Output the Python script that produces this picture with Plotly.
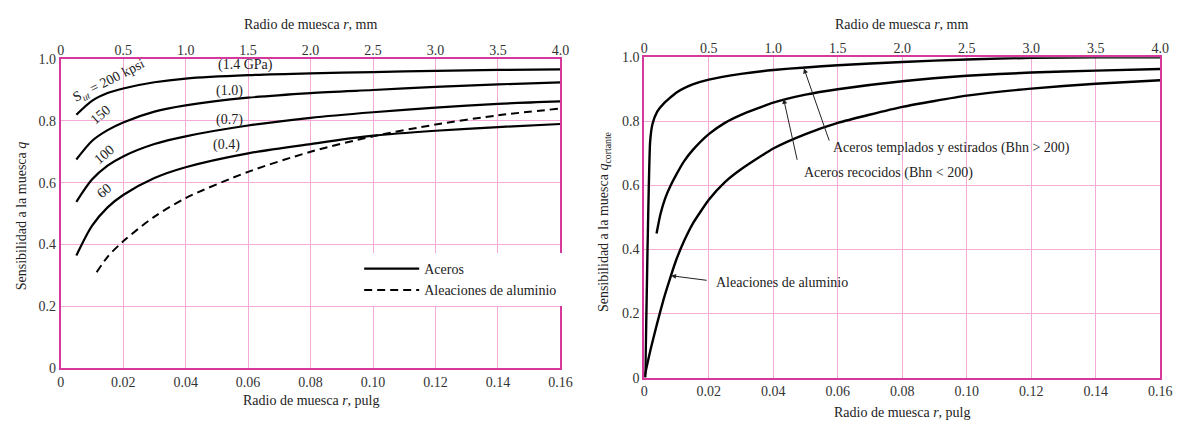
import plotly.graph_objects as go

# ---------------- data: left chart (normal stress notch sensitivity) ----------------
r_steel = [0.005, 0.01, 0.015, 0.02, 0.03, 0.04, 0.06, 0.08, 0.10, 0.12, 0.14, 0.16]
q_200 = [0.82, 0.865, 0.89, 0.905, 0.925, 0.937, 0.948, 0.954, 0.958, 0.962, 0.965, 0.967]
q_150 = [0.675, 0.735, 0.77, 0.795, 0.83, 0.85, 0.875, 0.89, 0.90, 0.91, 0.918, 0.925]
q_100 = [0.538, 0.61, 0.655, 0.685, 0.725, 0.75, 0.785, 0.81, 0.828, 0.843, 0.855, 0.863]
q_60 = [0.364, 0.46, 0.52, 0.56, 0.615, 0.65, 0.695, 0.725, 0.752, 0.768, 0.78, 0.79]
r_al = [0.0115, 0.015, 0.02, 0.03, 0.04, 0.06, 0.08, 0.10, 0.12, 0.14, 0.16]
q_al = [0.31, 0.36, 0.41, 0.49, 0.55, 0.635, 0.70, 0.75, 0.788, 0.818, 0.84]

# ---------------- data: right chart (shear notch sensitivity) ----------------
r_temp = [0.0003, 0.001, 0.0018, 0.0025, 0.004, 0.006, 0.01, 0.015, 0.02, 0.03, 0.04,
          0.05, 0.06, 0.08, 0.10, 0.12, 0.14, 0.16]
q_temp = [0.0, 0.40, 0.735, 0.79, 0.83, 0.855, 0.89, 0.915, 0.93, 0.948, 0.96,
          0.968, 0.975, 0.985, 0.993, 0.998, 1.0, 1.0]
r_rec = [0.0038, 0.005, 0.0065, 0.0082, 0.01, 0.0123, 0.015, 0.02, 0.025, 0.03, 0.04,
         0.05, 0.06, 0.08, 0.10, 0.12, 0.14, 0.16]
q_rec = [0.45, 0.51, 0.56, 0.60, 0.635, 0.675, 0.71, 0.76, 0.795, 0.82, 0.858,
         0.883, 0.90, 0.925, 0.942, 0.952, 0.958, 0.963]
r_alc = [0.0, 0.002, 0.004, 0.006, 0.008, 0.01, 0.0125, 0.015, 0.02, 0.025, 0.03, 0.04,
         0.05, 0.06, 0.08, 0.10, 0.12, 0.14, 0.16]
q_alc = [0.0, 0.09, 0.17, 0.245, 0.31, 0.37, 0.43, 0.48, 0.555, 0.61, 0.65, 0.715,
         0.76, 0.795, 0.845, 0.88, 0.902, 0.917, 0.928]

# tick labels
in_ticks = [0, 0.02, 0.04, 0.06, 0.08, 0.10, 0.12, 0.14, 0.16]
in_labels = ["0", "0.02", "0.04", "0.06", "0.08", "0.10", "0.12", "0.14", "0.16"]
mm_ticks = [0, 0.5, 1.0, 1.5, 2.0, 2.5, 3.0, 3.5, 4.0]
mm_labels = ["0", "0.5", "1.0", "1.5", "2.0", "2.5", "3.0", "3.5", "4.0"]
q_ticks = [0, 0.2, 0.4, 0.6, 0.8, 1.0]
q_labels = ["0", "0.2", "0.4", "0.6", "0.8", "1.0"]

FONT = "Liberation Serif"
BORDER = "#d6399b"
GRID = "#f3aad6"
W, H = 1194, 430

def px(x):
    return x / W

def py(y):
    return 1 - y / H

fig = go.Figure()

line_style = dict(color="black", width=2.2, shape="spline", smoothing=0.8)

fig.add_trace(go.Scatter(x=r_steel, y=q_200, mode="lines", line=line_style,
                         name="Aceros", showlegend=True,
                         xaxis="x", yaxis="y"))
for qq in (q_150, q_100, q_60):
    fig.add_trace(go.Scatter(x=r_steel, y=qq, mode="lines", line=line_style,
                             name="Aceros", showlegend=False,
                             xaxis="x", yaxis="y"))
fig.add_trace(go.Scatter(x=r_al, y=q_al, mode="lines",
                         line=dict(color="black", width=2.0, dash="8px,5px",
                                   shape="spline", smoothing=0.8),
                         name="Aleaciones de aluminio", showlegend=True,
                         xaxis="x", yaxis="y"))

rline = dict(color="black", width=2.4, shape="spline", smoothing=0.5)
for rr, qq in ((r_temp, q_temp), (r_rec, q_rec), (r_alc, q_alc)):
    fig.add_trace(go.Scatter(x=rr, y=qq, mode="lines", line=rline,
                             showlegend=False, xaxis="x3", yaxis="y3"))

# dummy traces to activate the top (mm) axes
fig.add_trace(go.Scatter(x=[0, 4], y=[None, None], xaxis="x2", yaxis="y",
                         showlegend=False, hoverinfo="skip"))
fig.add_trace(go.Scatter(x=[0, 4], y=[None, None], xaxis="x4", yaxis="y3",
                         showlegend=False, hoverinfo="skip"))

tickfont = dict(family=FONT, size=14, color="#333333")

L_dom = [px(57.5), px(564)]
L_ydom = [py(374), py(54)]
R_dom = [px(649), px(1172)]
R_ydom = [py(384), py(52)]

common_x = dict(range=[0, 0.16], tickvals=in_ticks, ticktext=in_labels,
                showgrid=True, gridcolor=GRID, gridwidth=1, zeroline=False,
                showline=True, linecolor=BORDER, linewidth=2, mirror=True,
                ticks="", tickfont=tickfont, fixedrange=True)
common_y = dict(range=[0, 1.0], tickvals=q_ticks, ticktext=q_labels,
                showgrid=True, gridcolor=GRID, gridwidth=1, zeroline=False,
                showline=True, linecolor=BORDER, linewidth=2, mirror=True,
                ticks="", tickfont=tickfont, fixedrange=True)
top_x = dict(range=[0, 4.0], tickvals=mm_ticks, ticktext=mm_labels, side="top",
             showgrid=False, zeroline=False, showline=False, ticks="",
             tickfont=tickfont, fixedrange=True)

fig.update_layout(
    width=W, height=H, margin=dict(l=0, r=0, t=0, b=0),
    paper_bgcolor="white", plot_bgcolor="white",
    font=dict(family=FONT, size=14, color="#222222"),
    xaxis=dict(domain=L_dom, anchor="y", **common_x),
    yaxis=dict(domain=L_ydom, anchor="x", **common_y),
    xaxis2=dict(domain=L_dom, anchor="y", overlaying="x", **top_x),
    xaxis3=dict(domain=R_dom, anchor="y3", **common_x),
    yaxis3=dict(domain=R_ydom, anchor="x3", **common_y),
    xaxis4=dict(domain=R_dom, anchor="y3", overlaying="x3", **top_x),
    legend=dict(x=px(360), y=py(255), xanchor="left", yanchor="top",
                bgcolor="white", borderwidth=0, itemwidth=55,
                font=dict(family=FONT, size=14, color="#222222"),
                tracegroupgap=0),
    showlegend=True,
)

ann_font = dict(family=FONT, size=14, color="#222222")
anns = []
ctr = dict(xanchor="center", yanchor="middle", showarrow=False, font=ann_font)
# axis titles
anns.append(dict(text="Radio de muesca <i>r</i>, mm", x=px(311), y=py(18), xref="paper",
                 yref="paper", **ctr))
anns.append(dict(text="Radio de muesca <i>r</i>, pulg", x=px(311), y=py(408), xref="paper",
                 yref="paper", **ctr))
anns.append(dict(text="Sensibilidad a la muesca <i>q</i>", x=px(18), y=py(216), xref="paper",
                 yref="paper", textangle=-90, **ctr))
anns.append(dict(text="Radio de muesca <i>r</i>, mm", x=px(910), y=py(18), xref="paper",
                 yref="paper", **ctr))
anns.append(dict(text="Radio de muesca <i>r</i>, pulg", x=px(910), y=py(420), xref="paper",
                 yref="paper", **ctr))
anns.append(dict(text="Sensibilidad a la muesca <i>q</i><sub>cortante</sub>", x=px(608),
                 y=py(222), xref="paper", yref="paper", textangle=-90, **ctr))

# left chart curve labels
lab = dict(xref="x", yref="y", **ctr)
anns.append(dict(text="S<sub><i>ut</i></sub> = 200 kpsi", x=0.0153, y=0.928, textangle=-27, **lab))
anns.append(dict(text="150", x=0.0128, y=0.82, textangle=-40, **lab))
anns.append(dict(text="100", x=0.0140, y=0.69, textangle=-40, **lab))
anns.append(dict(text="60", x=0.0140, y=0.575, textangle=-40, **lab))
anns.append(dict(text="(1.4 GPa)", x=0.0593, y=0.982, **lab))
anns.append(dict(text="(1.0)", x=0.0539, y=0.898, **lab))
anns.append(dict(text="(0.7)", x=0.0539, y=0.802, **lab))
anns.append(dict(text="(0.4)", x=0.0532, y=0.722, **lab))

# right chart labels with arrows
anns.append(dict(text="Aceros templados y estirados (Bhn > 200)", x=0.058, y=0.717,
                 xref="x3", yref="y3", xanchor="left", yanchor="middle",
                 showarrow=False, font=ann_font))
anns.append(dict(text="Aceros recocidos (Bhn < 200)", x=0.049, y=0.64,
                 xref="x3", yref="y3", xanchor="left", yanchor="middle",
                 showarrow=False, font=ann_font))
anns.append(dict(text="Aleaciones de aluminio", x=0.0215, y=0.297,
                 xref="x3", yref="y3", xanchor="left", yanchor="middle",
                 showarrow=False, font=ann_font))
arrow = dict(xref="x3", yref="y3", axref="x3", ayref="y3", text="", showarrow=True,
             arrowhead=2, arrowsize=1.0, arrowwidth=1, arrowcolor="#222222")
anns.append(dict(x=0.0495, y=0.965, ax=0.0575, ay=0.735, **arrow))
anns.append(dict(x=0.0432, y=0.87, ax=0.0475, ay=0.675, **arrow))
anns.append(dict(x=0.0083, y=0.318, ax=0.0198, ay=0.303, **arrow))

fig.update_layout(annotations=anns)
fig.write_html("out.html", config={"displayModeBar": False},
               post_script="document.body.style.margin='0';"
                           "document.body.style.overflow='hidden';")
